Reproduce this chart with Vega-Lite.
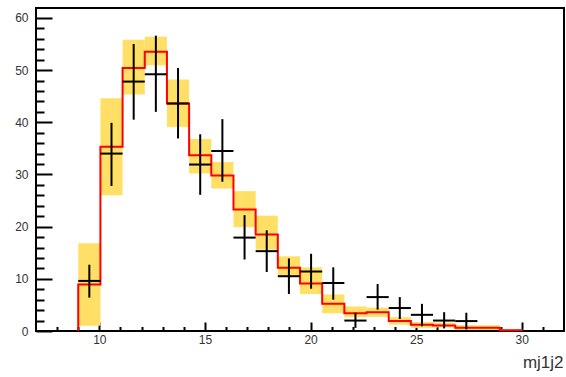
{
  "$schema": "https://vega.github.io/schema/vega-lite/v6.json",
  "width": 528,
  "height": 323,
  "autosize": "none",
  "padding": {"left": 36, "top": 8, "right": 2, "bottom": 46},
  "background": "white",
  "config": {
    "view": {"stroke": "black", "strokeWidth": 2},
    "font": "Liberation Sans",
    "axis": {"domain": false, "grid": false, "zindex": 1, "tickColor": "black", "tickWidth": 2, "labelColor": "#333333", "labelFontSize": 12, "labelFont": "Liberation Sans"}
  },
  "datasets": {
    "bins": [
      {"x0": 9.00, "x1": 10.05, "xc": 9.525, "mc": 8.9, "blo": 1.0, "bhi": 16.8, "d": 9.6, "dlo": 6.4, "dhi": 12.7},
      {"x0": 10.05, "x1": 11.10, "xc": 10.575, "mc": 35.3, "blo": 26.0, "bhi": 44.6, "d": 34.0, "dlo": 27.8, "dhi": 39.9},
      {"x0": 11.10, "x1": 12.15, "xc": 11.625, "mc": 50.4, "blo": 45.3, "bhi": 55.8, "d": 47.8, "dlo": 40.5, "dhi": 55.0},
      {"x0": 12.15, "x1": 13.20, "xc": 12.675, "mc": 53.5, "blo": 50.9, "bhi": 56.4, "d": 49.2, "dlo": 42.0, "dhi": 56.6},
      {"x0": 13.20, "x1": 14.25, "xc": 13.725, "mc": 43.6, "blo": 39.1, "bhi": 48.2, "d": 43.6, "dlo": 36.9, "dhi": 50.4},
      {"x0": 14.25, "x1": 15.30, "xc": 14.775, "mc": 33.7, "blo": 30.2, "bhi": 36.8, "d": 31.9, "dlo": 26.1, "dhi": 37.7},
      {"x0": 15.30, "x1": 16.35, "xc": 15.825, "mc": 29.8, "blo": 27.3, "bhi": 32.4, "d": 34.5, "dlo": 28.6, "dhi": 40.6},
      {"x0": 16.35, "x1": 17.40, "xc": 16.875, "mc": 23.3, "blo": 19.9, "bhi": 26.8, "d": 17.9, "dlo": 13.7, "dhi": 22.2},
      {"x0": 17.40, "x1": 18.45, "xc": 17.925, "mc": 18.5, "blo": 15.6, "bhi": 22.1, "d": 15.3, "dlo": 11.3, "dhi": 19.3},
      {"x0": 18.45, "x1": 19.50, "xc": 18.975, "mc": 12.1, "blo": 10.3, "bhi": 14.3, "d": 10.5, "dlo": 7.1, "dhi": 13.9},
      {"x0": 19.50, "x1": 20.55, "xc": 20.025, "mc": 9.1, "blo": 7.1, "bhi": 12.2, "d": 11.4, "dlo": 8.1, "dhi": 14.8},
      {"x0": 20.55, "x1": 21.60, "xc": 21.075, "mc": 5.2, "blo": 3.4, "bhi": 7.0, "d": 9.2, "dlo": 6.0, "dhi": 12.2},
      {"x0": 21.60, "x1": 22.65, "xc": 22.125, "mc": 3.4, "blo": 2.65, "bhi": 4.7, "d": 2.0, "dlo": 0.6, "dhi": 3.5},
      {"x0": 22.65, "x1": 23.70, "xc": 23.175, "mc": 3.6, "blo": 2.7, "bhi": 4.5, "d": 6.5, "dlo": 4.1, "dhi": 9.0},
      {"x0": 23.70, "x1": 24.75, "xc": 24.225, "mc": 1.9, "blo": 1.2, "bhi": 2.65, "d": 4.4, "dlo": 2.3, "dhi": 6.5},
      {"x0": 24.75, "x1": 25.80, "xc": 25.275, "mc": 1.2, "blo": 0.6, "bhi": 1.7, "d": 3.1, "dlo": 0.9, "dhi": 5.2},
      {"x0": 25.80, "x1": 26.85, "xc": 26.325, "mc": 1.05, "blo": 0.7, "bhi": 1.6, "d": 2.0, "dlo": 0.5, "dhi": 3.6},
      {"x0": 26.85, "x1": 27.90, "xc": 27.375, "mc": 0.6, "blo": 0.2, "bhi": 1.1, "d": 1.9, "dlo": 0.3, "dhi": 3.5},
      {"x0": 27.90, "x1": 28.95, "xc": 28.425, "mc": 0.6, "blo": 0.2, "bhi": 1.1, "d": null, "dlo": null, "dhi": null},
      {"x0": 28.95, "x1": 30.00, "xc": 29.475, "mc": 0.15, "blo": 0.05, "bhi": 0.3, "d": null, "dlo": null, "dhi": null}
    ],
    "steps": [
      {"i": 0, "x": 9.00, "y": 0},
      {"i": 1, "x": 9.00, "y": 8.9},
      {"i": 2, "x": 10.05, "y": 35.3},
      {"i": 3, "x": 11.10, "y": 50.4},
      {"i": 4, "x": 12.15, "y": 53.5},
      {"i": 5, "x": 13.20, "y": 43.6},
      {"i": 6, "x": 14.25, "y": 33.7},
      {"i": 7, "x": 15.30, "y": 29.8},
      {"i": 8, "x": 16.35, "y": 23.3},
      {"i": 9, "x": 17.40, "y": 18.5},
      {"i": 10, "x": 18.45, "y": 12.1},
      {"i": 11, "x": 19.50, "y": 9.1},
      {"i": 12, "x": 20.55, "y": 5.2},
      {"i": 13, "x": 21.60, "y": 3.4},
      {"i": 14, "x": 22.65, "y": 3.6},
      {"i": 15, "x": 23.70, "y": 1.9},
      {"i": 16, "x": 24.75, "y": 1.2},
      {"i": 17, "x": 25.80, "y": 1.05},
      {"i": 18, "x": 26.85, "y": 0.6},
      {"i": 19, "x": 27.90, "y": 0.6},
      {"i": 20, "x": 28.95, "y": 0.15},
      {"i": 21, "x": 30.00, "y": 0.15},
      {"i": 22, "x": 30.00, "y": 0}
    ]
  },
  "resolve": {"axis": {"x": "independent", "y": "independent"}},
  "layer": [
    {
      "data": {"name": "bins"},
      "mark": {"type": "rect", "fill": "#FFDF66", "strokeWidth": 0},
      "encoding": {
        "x": {"field": "x0", "type": "quantitative", "scale": {"domain": [7, 32], "nice": false, "zero": false},
              "axis": {"orient": "bottom", "values": [8, 9, 11, 12, 13, 14, 16, 17, 18, 19, 21, 22, 23, 24, 26, 27, 28, 29, 31], "tickSize": -4.5, "labels": false, "title": null}},
        "x2": {"field": "x1"},
        "y": {"field": "blo", "type": "quantitative", "scale": {"domain": [0, 61.9], "nice": false, "zero": false},
              "axis": {"orient": "left", "values": [2, 4, 6, 8, 12, 14, 16, 18, 22, 24, 26, 28, 32, 34, 36, 38, 42, 44, 46, 48, 52, 54, 56, 58], "tickSize": -8, "labels": false, "title": null}},
        "y2": {"field": "bhi"}
      }
    },
    {
      "data": {"name": "steps"},
      "mark": {"type": "line", "interpolate": "step-after", "color": "#FF0000", "strokeWidth": 2},
      "encoding": {
        "x": {"field": "x", "type": "quantitative",
              "axis": {"orient": "bottom", "values": [10, 15, 20, 25, 30], "tickSize": -9, "labelPadding": 12, "labelBaseline": "top",
                       "title": "mj1j2", "titleFont": "Liberation Sans", "titleFontSize": 17, "titleFontWeight": "normal", "titleColor": "#333333",
                       "titleAnchor": "end", "titleAlign": "right", "titleBaseline": "alphabetic", "titleY": 36, "titleX": 527}},
        "y": {"field": "y", "type": "quantitative",
              "axis": {"orient": "left", "values": [0, 10, 20, 30, 40, 50, 60], "tickSize": -16, "labelPadding": 24, "title": null}},
        "order": {"field": "i", "type": "quantitative"}
      }
    },
    {
      "data": {"name": "bins"},
      "transform": [{"filter": "isValid(datum.d)"}],
      "mark": {"type": "rule", "color": "black", "strokeWidth": 2},
      "encoding": {
        "x": {"field": "x0", "type": "quantitative", "axis": null},
        "x2": {"field": "x1"},
        "y": {"field": "d", "type": "quantitative", "axis": null}
      }
    },
    {
      "data": {"name": "bins"},
      "transform": [{"filter": "isValid(datum.d)"}],
      "mark": {"type": "rule", "color": "black", "strokeWidth": 2},
      "encoding": {
        "x": {"field": "xc", "type": "quantitative", "axis": null},
        "y": {"field": "dlo", "type": "quantitative", "axis": null},
        "y2": {"field": "dhi"}
      }
    }
  ]
}
